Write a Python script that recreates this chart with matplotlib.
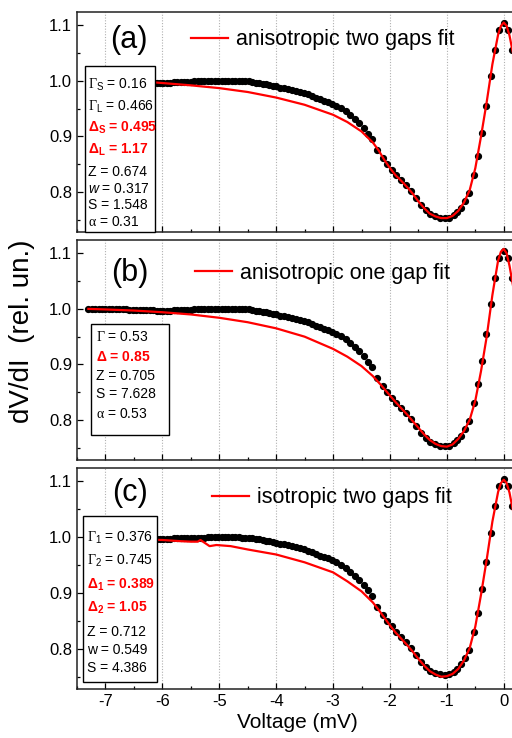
import numpy as np
import matplotlib
matplotlib.use("Agg")
import matplotlib.pyplot as plt
from matplotlib.patches import Rectangle
from matplotlib.ticker import MultipleLocator, FormatStrFormatter

plt.rcParams["font.family"] = "Liberation Sans"
plt.rcParams["mathtext.fontset"] = "custom"
plt.rcParams["mathtext.rm"] = "Liberation Serif"
plt.rcParams["mathtext.sf"] = "Liberation Sans"
plt.rcParams["mathtext.it"] = "Liberation Sans:italic"
plt.rcParams["mathtext.bf"] = "Liberation Sans:bold"

# measured dV/dI (same data in all panels)
v_data = [-7.30, -7.24, -7.18, -7.12, -7.06, -7.00, -6.94, -6.88, -6.82, -6.76,
          -6.70, -6.64, -6.58, -6.52, -6.46, -6.40, -6.34, -6.28, -6.22, -6.16,
          -6.10, -6.04, -5.98, -5.92, -5.86, -5.80, -5.74, -5.68, -5.62, -5.56,
          -5.50, -5.44, -5.38, -5.32, -5.26, -5.20, -5.14, -5.08, -5.02, -4.96,
          -4.90, -4.84, -4.78, -4.72, -4.66, -4.60, -4.54, -4.48, -4.42, -4.36,
          -4.30, -4.24, -4.18, -4.12, -4.06, -4.00,
          -3.93, -3.86, -3.79, -3.72, -3.65, -3.58, -3.51, -3.44, -3.37, -3.30,
          -3.23, -3.16, -3.09, -3.02, -2.94, -2.86, -2.78, -2.70, -2.62, -2.54,
          -2.46, -2.38,
          -2.31, -2.22, -2.13, -2.05, -1.97, -1.89, -1.81, -1.72, -1.63, -1.55,
          -1.46, -1.37, -1.29, -1.20, -1.12, -1.04, -0.96, -0.88, -0.82, -0.76,
          -0.69, -0.61, -0.53, -0.46, -0.39, -0.31, -0.23, -0.16, -0.08, 0.00,
          0.08, 0.14]
g_data = [1.000, 1.000, 1.000, 0.999, 1.000, 1.000, 0.999, 0.999, 0.999, 0.999,
          0.999, 0.999, 0.998, 0.998, 0.998, 0.998, 0.998, 0.998, 0.998, 0.998,
          0.997, 0.997, 0.997, 0.997, 0.997, 0.998, 0.998, 0.998, 0.998, 0.998,
          0.998, 0.999, 0.999, 0.999, 0.999, 1.000, 1.000, 1.000, 1.000, 1.000,
          1.000, 1.000, 1.000, 1.000, 1.000, 0.999, 0.999, 0.999, 0.998, 0.997,
          0.996, 0.995, 0.994, 0.993, 0.991, 0.990,
          0.988, 0.987, 0.986, 0.984, 0.982, 0.980, 0.978, 0.976, 0.973, 0.970,
          0.967, 0.964, 0.962, 0.959, 0.955, 0.951, 0.945, 0.938, 0.931, 0.924,
          0.915, 0.905,
          0.895, 0.875, 0.861, 0.850, 0.840, 0.830, 0.821, 0.812, 0.801, 0.789,
          0.777, 0.768, 0.761, 0.757, 0.754, 0.753, 0.754, 0.758, 0.764, 0.772,
          0.783, 0.798, 0.831, 0.864, 0.907, 0.955, 1.008, 1.056, 1.092, 1.104,
          1.092, 1.056]

# fits
v_fit_a = [-7.3, -7.0, -6.5, -6.1, -5.5, -5.0, -4.5, -4.0, -3.5, -3.0, -2.75, -2.5,
           -2.3, -2.2, -2.1, -2.0, -1.9, -1.8, -1.7, -1.6, -1.5, -1.4, -1.3, -1.2,
           -1.1, -1.0, -0.9, -0.8, -0.7, -0.6, -0.5, -0.4, -0.3, -0.2, -0.1, -0.05,
           0.0, 0.05, 0.1, 0.2]
g_fit_a = [0.999, 0.999, 0.998, 0.997, 0.992, 0.987, 0.980, 0.970, 0.957, 0.939, 0.926, 0.909,
           0.889, 0.875, 0.858, 0.843, 0.830, 0.820, 0.809, 0.797, 0.783, 0.771, 0.761, 0.756,
           0.753, 0.753, 0.757, 0.766, 0.781, 0.803, 0.843, 0.900, 0.962, 1.030, 1.083, 1.099,
           1.105, 1.099, 1.082, 1.030]

v_fit_b = [-7.3, -7.0, -6.5, -6.0, -5.5, -5.0, -4.5, -4.0, -3.5, -3.0, -2.75, -2.5,
           -2.3, -2.15, -2.0, -1.9, -1.8, -1.7, -1.6, -1.5, -1.4, -1.3, -1.2, -1.1,
           -1.0, -0.9, -0.8, -0.7, -0.6, -0.5, -0.4, -0.3, -0.2, -0.1, -0.05, 0.0,
           0.05, 0.1, 0.2]
g_fit_b = [1.000, 0.999, 0.997, 0.994, 0.990, 0.984, 0.976, 0.965, 0.950, 0.928, 0.914, 0.897,
           0.879, 0.862, 0.844, 0.832, 0.821, 0.810, 0.798, 0.786, 0.774, 0.764, 0.757, 0.753,
           0.752, 0.756, 0.766, 0.780, 0.800, 0.835, 0.888, 0.950, 1.025, 1.087, 1.103, 1.108,
           1.100, 1.078, 1.020]

v_fit_c = [-7.3, -7.0, -6.5, -6.0, -5.7, -5.5, -5.38, -5.33, -5.17, -5.05, -4.8, -4.5,
           -4.0, -3.5, -3.0, -2.75, -2.5, -2.3, -2.2, -2.1, -2.0, -1.9, -1.8, -1.7,
           -1.6, -1.5, -1.4, -1.3, -1.2, -1.1, -1.0, -0.9, -0.8, -0.7, -0.6, -0.5,
           -0.4, -0.3, -0.2, -0.1, -0.05, 0.0, 0.05, 0.1, 0.2]
g_fit_c = [0.998, 0.997, 0.996, 0.995, 0.993, 0.992, 0.992, 0.995, 0.984, 0.986, 0.984, 0.978,
           0.969, 0.955, 0.937, 0.921, 0.903, 0.883, 0.870, 0.856, 0.842, 0.829, 0.818, 0.807,
           0.795, 0.782, 0.770, 0.760, 0.754, 0.750, 0.751, 0.755, 0.764, 0.779, 0.801, 0.840,
           0.897, 0.960, 1.028, 1.081, 1.097, 1.103, 1.097, 1.080, 1.028]

fit_labels = ["anisotropic two gaps fit", "anisotropic one gap fit", "isotropic two gaps fit"]
panel_tags = ["(a)", "(b)", "(c)"]

params_a = [r"$\Gamma_{\mathsf{S}}$ = 0.16", r"$\Gamma_{\mathsf{L}}$ = 0.466",
            r"$\mathbf{\Delta}_{\mathbf{S}}$ = 0.495", r"$\mathbf{\Delta}_{\mathbf{L}}$ = 1.17",
            "Z = 0.674", r"$\mathit{w}$ = 0.317", "S = 1.548", r"$\mathrm{\alpha}$ = 0.31"]
params_b = [r"$\Gamma$ = 0.53", r"$\mathbf{\Delta}$ = 0.85", "Z = 0.705", "S = 7.628",
            r"$\mathrm{\alpha}$ = 0.53"]
params_c = [r"$\Gamma_{\mathsf{1}}$ = 0.376", r"$\Gamma_{\mathsf{2}}$ = 0.745",
            r"$\mathbf{\Delta}_{\mathbf{1}}$ = 0.389", r"$\mathbf{\Delta}_{\mathbf{2}}$ = 1.05",
            "Z = 0.712", "w = 0.549", "S = 4.386"]
red_a, red_b, red_c = [2, 3], [1], [2, 3]

W, H = 512, 738
fig = plt.figure(figsize=(W / 100, H / 100), dpi=100)

# panel layout in pixels: (top, bottom)
panels = [(12, 232), (240, 460), (468, 689)]
x0, x1 = 77, 518
fits = [(v_fit_a, g_fit_a), (v_fit_b, g_fit_b), (v_fit_c, g_fit_c)]
# legend handle start / text row y, tag y, box (l, t, r, b), text lines y, text x
legend_pos = [(191, 40), (195, 273), (212, 498)]
tag_pos = [(129, 40), (130, 273), (130, 493)]
boxes = [(85, 66, 155, 232), (91, 324, 169, 435), (83, 516, 157, 682)]
line_y = [[85, 107, 128, 150, 172, 189, 205, 222],
          [337, 357, 376, 394, 414],
          [538, 561, 585, 608, 632, 650, 668]]
text_x = [88, 96, 87]
params = [params_a, params_b, params_c]
reds = [red_a, red_b, red_c]

for i, (top, bot) in enumerate(panels):
    ax = fig.add_axes([x0 / W, 1 - bot / H, (x1 - x0) / W, (bot - top) / H])
    ax.set_xlim(-7.5, 0.25)
    ax.set_ylim(0.728, 1.124)

    def axc(px, py):
        return (px - x0) / (x1 - x0), (bot - py) / (bot - top)

    ax.grid(axis="x", which="major", ls=(0, (1, 1.5)), color="#b0b0b0", lw=0.8)
    ax.plot(v_data, g_data, "o", color="black", ms=4.2, mec="black", zorder=3)
    ax.plot(fits[i][0], fits[i][1], color="red", lw=1.6, zorder=4, label=fit_labels[i])

    ax.xaxis.set_major_locator(MultipleLocator(1))
    ax.xaxis.set_minor_locator(MultipleLocator(0.5))
    ax.set_yticks([0.8, 0.9, 1.0, 1.1])
    ax.yaxis.set_minor_locator(MultipleLocator(0.05))
    ax.yaxis.set_major_formatter(FormatStrFormatter("%.1f"))
    ax.tick_params(which="both", direction="in", labelsize=12, width=0.9)
    ax.tick_params(which="major", length=4.5)
    ax.tick_params(which="minor", length=2.5)
    for s in ax.spines.values():
        s.set_linewidth(1.1)
        s.set_color("#222222")
    if i < 2:
        ax.tick_params(axis="x", labelbottom=False)
    else:
        ax.set_xticks(range(-7, 1))
        ax.set_xticklabels([str(t) for t in range(-7, 1)])
        ax.set_xlabel("Voltage (mV)", fontsize=15, labelpad=3)

    lx, ly = axc(*legend_pos[i])
    ax.legend(loc="center left", bbox_to_anchor=(lx, ly), frameon=False, fontsize=15.5,
              handlelength=1.72, handletextpad=0.35, borderpad=0, borderaxespad=0)

    tx, ty = axc(*tag_pos[i])
    ax.text(tx, ty, panel_tags[i], transform=ax.transAxes, fontsize=22,
            ha="center", va="center")

    bl, bt, br, bb = boxes[i]
    px0, py0 = axc(bl, bb)
    px1, py1 = axc(br, bt)
    ax.add_patch(Rectangle((px0, py0), px1 - px0, py1 - py0, transform=ax.transAxes,
                           facecolor="white", edgecolor="black", lw=1.0, zorder=6,
                           clip_on=False))
    for j, s in enumerate(params[i]):
        sx, sy = axc(text_x[i], line_y[i][j])
        red = j in reds[i]
        ax.text(sx, sy, s, transform=ax.transAxes, fontsize=10, ha="left", va="center",
                color="red" if red else "black", fontweight="bold" if red else "normal",
                zorder=7)

fig.text(22 / W, 1 - 331 / H, "dV/dI  (rel. un.)", rotation=90, fontsize=20,
         ha="center", va="center")

fig.savefig("out.png", dpi=100)
